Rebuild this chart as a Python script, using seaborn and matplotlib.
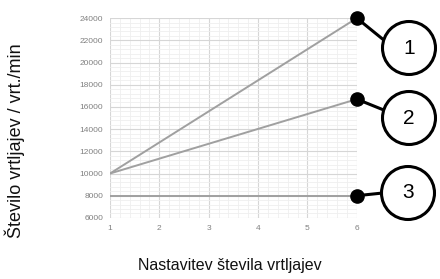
import numpy as np
import pandas as pd
import matplotlib
matplotlib.use("Agg")
import matplotlib.pyplot as plt
from matplotlib.patches import Circle, ConnectionPatch
from matplotlib.ticker import MultipleLocator
import seaborn as sns

sns.set_theme(style="white")
plt.rcParams['font.family'] = ['Liberation Sans', 'DejaVu Sans']

# data
settings = [1, 6]
line_1 = [10000, 24000]
line_2 = [10000, 16700]
line_3 = [8000, 8000]
labels = ["1", "2", "3"]

df = pd.DataFrame({
    "setting": settings * 3,
    "rpm": line_1 + line_2 + line_3,
    "line": [l for l in labels for _ in settings],
})

fig = plt.figure(figsize=(4.4, 2.79), dpi=100)
ax = fig.add_axes([0.25, 0.219, 0.561, 0.716])

sns.lineplot(data=df, x="setting", y="rpm", hue="line",
             palette=["#a0a0a0"] * 3, linewidth=1.4, legend=False, ax=ax)

ax.set_xlim(1, 6)
ax.set_ylim(6000, 24000)
ax.set_xticks(range(1, 7))
ax.set_yticks(range(6000, 24001, 2000))
ax.xaxis.set_minor_locator(MultipleLocator(0.2))
ax.yaxis.set_minor_locator(MultipleLocator(400))
ax.grid(which="major", color="#d6d6d6", linewidth=0.8)
ax.grid(which="minor", color="#efefef", linewidth=0.6)
ax.set_axisbelow(True)
for s in ax.spines.values():
    s.set_visible(False)
ax.tick_params(axis="both", which="major", length=3, width=0.8, color="#d6d6d6",
               labelsize=6, labelcolor="#808080", pad=2)
ax.tick_params(axis="both", which="minor", length=0)

ax.set_xlabel("")
ax.set_ylabel("")
fig.text(0.034, 0.497, "Število vrtljajev / vrt./min", rotation=90,
         ha="center", va="center", fontsize=13, color="#111111")
fig.text(0.523, 0.05, "Nastavitev števila vrtljajev", ha="center",
         va="center", fontsize=11.5, color="#111111")

# end dots and numbered circles
ends = [line_1[-1], line_2[-1], line_3[-1]]
centers = [(4.09, 2.31), (4.09, 1.61), (4.08, 0.86)]
r = 0.265
for lab, yv, (cx, cy) in zip(labels, ends, centers):
    ax.plot(settings[-1], yv, "o", color="black", markersize=9.5,
            clip_on=False, zorder=5)
    con = ConnectionPatch(xyA=(settings[-1], yv), coordsA=ax.transData,
                          xyB=(cx - r * 0.95, cy + r * 0.3 if lab != "3" else cy),
                          coordsB=fig.dpi_scale_trans,
                          color="black", linewidth=2.2, zorder=4)
    fig.add_artist(con)
    c = Circle((cx, cy), r, transform=fig.dpi_scale_trans, facecolor="white",
               edgecolor="black", linewidth=2.2, zorder=6)
    fig.add_artist(c)
    fig.text(cx / 4.4, cy / 2.79, lab, ha="center", va="center",
             fontsize=15, color="black", zorder=7)

fig.savefig("out.png", dpi=100)
